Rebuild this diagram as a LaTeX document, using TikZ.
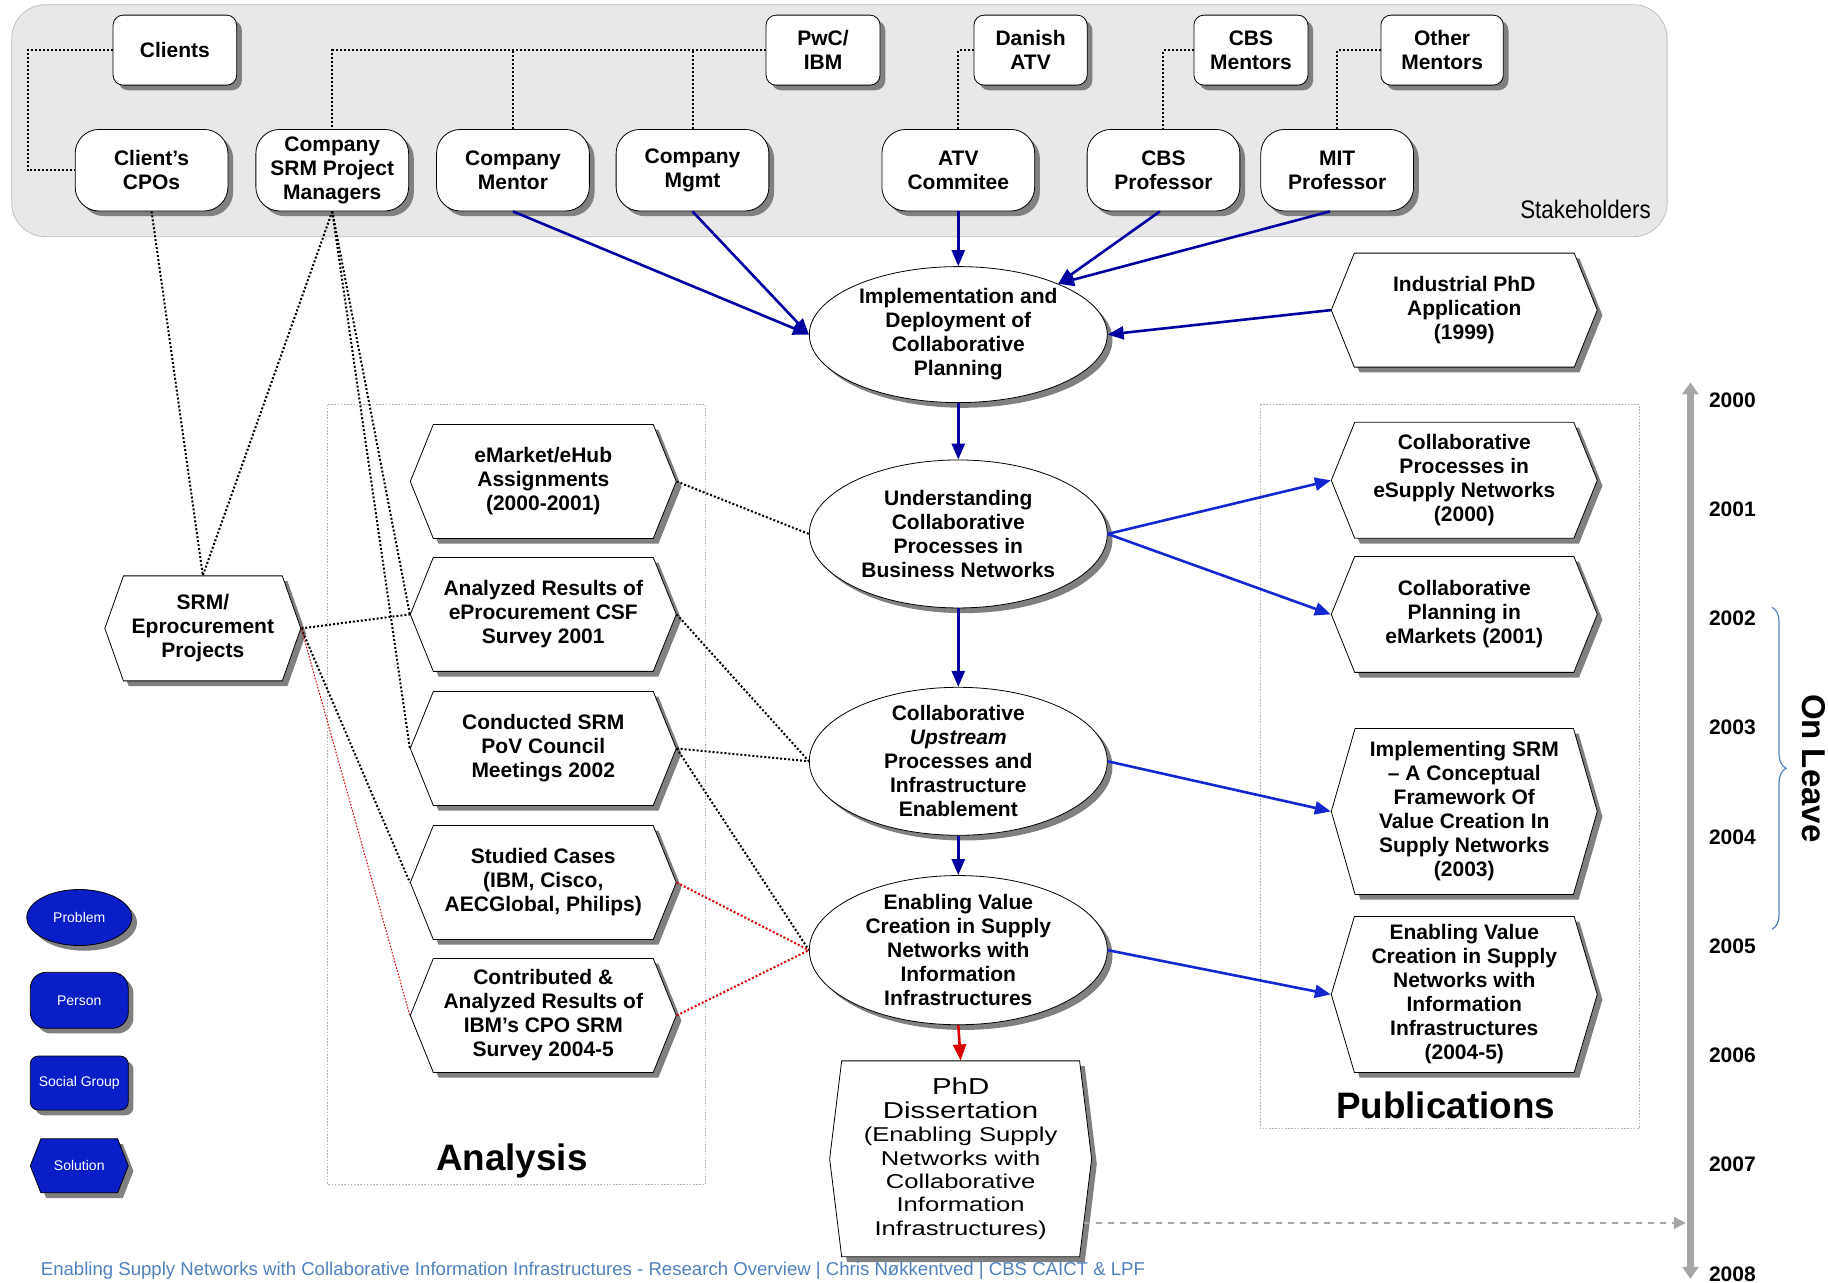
\documentclass[tikz,border=0pt]{standalone}
\usepackage{fontspec}
\setmainfont{Liberation Sans}
\newfontfamily\narrowfont[FakeStretch=0.88]{Liberation Sans}
\newfontfamily\widefont[FakeStretch=1.28]{Liberation Sans}
\usetikzlibrary{shapes.geometric,shapes.symbols,shadows,arrows.meta,decorations.pathreplacing}

\definecolor{navyarrow}{RGB}{0,0,160}
\definecolor{bluearrow}{RGB}{20,40,210}
\definecolor{legendblue}{RGB}{10,30,200}
\definecolor{footblue}{RGB}{79,129,189}
\definecolor{stakefill}{RGB}{232,232,232}
\definecolor{axisgray}{RGB}{166,166,166}

\tikzset{
  every node/.style={font=\bfseries\fontsize{10.5}{12}\selectfont, align=center},
  shad/.style={drop shadow={shadow xshift=2.6pt, shadow yshift=-2.6pt, fill=black!50, opacity=1}},
  group/.style={draw, fill=white, rounded corners=5pt, shad, minimum height=35pt, inner sep=1pt},
  person/.style={draw, fill=white, rounded corners=12pt, shad, minimum width=76.4pt, minimum height=40.8pt, inner sep=1pt},
  problem/.style={ellipse, draw, fill=white, shad, minimum width=149pt, inner sep=-8pt},
  solution/.style={signal, signal to=west and east, signal pointer angle=136, draw, fill=white, shad,
    minimum width=133pt, minimum height=57pt, inner sep=1pt},
  carrow/.style={navyarrow, line width=1.3pt, -{Triangle[length=8pt,width=6.5pt]}},
  parrow/.style={bluearrow, line width=1.3pt, -{Triangle[length=8pt,width=6.5pt]}},
  link/.style={line width=1pt, dash pattern=on 1pt off 1pt},
  redlink/.style={red!85!black, line width=1pt, dash pattern=on 1pt off 1pt},
  thinred/.style={red!85!black, line width=0.5pt, dash pattern=on 0.8pt off 0.8pt},
  area/.style={draw=black!30, line width=0.5pt, dash pattern=on 0.8pt off 0.8pt},
  legend/.style={draw, fill=legendblue, text=white, shad, font=\fontsize{7}{8}\selectfont,
    minimum width=49pt, minimum height=27pt, inner sep=1pt},
  year/.style={font=\bfseries\fontsize{10.5}{12}\selectfont}
}

\begin{document}
\begin{tikzpicture}[x=0.583pt, y=-0.583pt]
  \useasboundingbox (0,0) rectangle (1568,1100);

  % Stakeholder area
  \draw[fill=stakefill, draw=black!25, rounded corners=17pt] (10,4) rectangle (1430,203);
  \node[anchor=east, font=\narrowfont\fontsize{12.7}{14}\selectfont] (stake) at (1422,180) {Stakeholders};

  % Analysis and publication areas
  \draw[area] (281,347) rectangle (605,1016);
  \draw[area] (1081,347) rectangle (1406,968);
  \node[font=\bfseries\fontsize{18.4}{20}\selectfont] (analysis) at (439,996) {Analysis};
  \node[font=\bfseries\fontsize{18.4}{20}\selectfont] (publ) at (1240,948) {Publications};

  % Social groups
  \node[group, minimum width=61.8pt] (clients) at (150,43) {Clients};
  \node[group, minimum width=57pt] (pwc) at (706,43) {PwC/\\IBM};
  \node[group, minimum width=56.6pt] (danish) at (884,43) {Danish\\ATV};
  \node[group, minimum width=57pt] (cbsment) at (1073,43) {CBS\\Mentors};
  \node[group, minimum width=61.2pt] (othment) at (1237,43) {Other\\Mentors};

  % Persons
  \node[person] (cpos) at (130,146) {Client’s\\CPOs};
  \node[person] (srmpm) at (285,146) {Company\\SRM Project\\Managers};
  \node[person] (compment) at (440,146) {Company\\Mentor};
  \node[person] (compmgmt) at (594,146) {Company\\Mgmt};
  \node[person] (atvcom) at (822,146) {ATV\\Commitee};
  \node[person] (cbsprof) at (998,146) {CBS\\Professor};
  \node[person] (mitprof) at (1147,146) {MIT\\Professor};

  % Problems
  \node[problem, minimum height=68pt] (impl) at (822,287) {Implementation and\\Deployment of\\Collaborative\\Planning};
  \node[problem, minimum height=74pt] (underst) at (822,458) {Understanding\\Collaborative\\Processes in\\Business Networks};
  \node[problem, minimum height=74pt] (upstream) at (822,653) {Collaborative\\\textit{Upstream}\\Processes and\\Infrastructure\\Enablement};
  \node[problem, minimum height=74.6pt] (enabling) at (822,815) {Enabling Value\\Creation in Supply\\Networks with\\Information\\Infrastructures};

  % Solutions
  \node[solution] (indphd) at (1256,266) {Industrial PhD\\Application\\(1999)};
  \node[solution] (emarket) at (466,413) {eMarket/eHub\\Assignments\\(2000-2001)};
  \node[solution] (csf) at (466,527) {Analyzed Results of\\eProcurement CSF\\Survey 2001};
  \node[solution] (pov) at (466,642) {Conducted SRM\\PoV Council\\Meetings 2002};
  \node[solution] (cases) at (466,757) {Studied Cases\\(IBM, Cisco,\\AECGlobal, Philips)};
  \node[solution] (cposurvey) at (466,871) {Contributed \&\\Analyzed Results of\\IBM’s CPO SRM\\Survey 2004-5};
  \node[solution, minimum width=98pt, minimum height=52.5pt, signal pointer angle=141] (srmproj) at (174,539) {SRM/\\Eprocurement\\Projects};
  \node[solution, minimum height=58pt] (pubproc) at (1256,412) {Collaborative\\Processes in\\eSupply Networks\\(2000)};
  \node[solution, minimum height=58pt] (pubplan) at (1256,527) {Collaborative\\Planning in\\eMarkets (2001)};
  \node[solution, minimum height=83pt, signal pointer angle=148] (pubsrm) at (1256,696) {Implementing SRM\\– A Conceptual\\Framework Of\\Value Creation In\\Supply Networks\\(2003)};
  \node[solution, minimum height=78pt, signal pointer angle=147] (pubvalue) at (1256,853) {Enabling Value\\Creation in Supply\\Networks with\\Information\\Infrastructures\\(2004-5)};
  \node[solution, minimum width=131pt, minimum height=98pt, signal pointer angle=166,
    font=\widefont\fontsize{10}{11.7}\selectfont] (phd) at (824,994)
    {{\fontsize{11.5}{13.4}\selectfont PhD}\\{\fontsize{11.5}{13.4}\selectfont Dissertation}\\(Enabling Supply\\Networks with\\Collaborative\\Information\\Infrastructures)};

  % Legend
  \node[legend, ellipse, minimum width=52.5pt, minimum height=28pt, inner sep=0pt] (lgprob) at (68,787) {Problem};
  \node[legend, rounded corners=8pt, minimum height=28pt] (lgperson) at (68,858) {Person};
  \node[legend, rounded corners=4pt] (lggroup) at (68,929) {Social Group};
  \node[legend, signal, signal to=west and east, signal pointer angle=137] (lgsol) at (68,1000) {Solution};

  % Time line
  \coordinate (tltop) at (1450,328);
  \coordinate (tlbot) at (1450,1097);
  \coordinate (tlhit) at (1446,1049);
  \node[year] (y2000) at (1486,343) {2000};
  \node[year] (y2001) at (1486,437) {2001};
  \node[year] (y2002) at (1486,530) {2002};
  \node[year] (y2003) at (1486,624) {2003};
  \node[year] (y2004) at (1486,718) {2004};
  \node[year] (y2005) at (1486,812) {2005};
  \node[year] (y2006) at (1486,905) {2006};
  \node[year] (y2007) at (1486,999) {2007};
  \node[year] (y2008) at (1486,1093) {2008};
  \coordinate (leavetop) at (1520,521);
  \coordinate (leavebot) at (1520,797);
  \node[rotate=-90, font=\bfseries\fontsize{16.5}{18}\selectfont] (onleave) at (1556,659) {On Leave};

  % Footer
  \node[anchor=west, text=footblue, font=\fontsize{9.3}{11}\selectfont] (footer) at (29,1090)
    {Enabling Supply Networks with Collaborative Information Infrastructures - Research Overview | Chris Nøkkentved | CBS CAICT \& LPF};

  % Stakeholder links
  \draw[link] (clients.west) -- ++(-73,0) |- (cpos.west);
  \draw[link] (pwc.west) -| (srmpm.north);
  \draw[link] (compment.north) -- (compment.north |- pwc.west);
  \draw[link] (compmgmt.north) -- (compmgmt.north |- pwc.west);
  \draw[link] (danish.west) -| (atvcom.north);
  \draw[link] (cbsment.west) -| (cbsprof.north);
  \draw[link] (othment.west) -| (mitprof.north);

  % Arrows into the problems
  \draw[carrow] (compment.south) -- (impl.west);
  \draw[carrow] (compmgmt.south) -- (impl.west);
  \draw[carrow] (atvcom.south) -- (impl.north);
  \draw[carrow] (cbsprof.-95) -- (impl.27);
  \draw[carrow] (mitprof.-100) -- (impl.27);
  \draw[carrow] (indphd.west) -- (impl.east);
  \draw[carrow] (impl.south) -- (underst.north);
  \draw[carrow] (underst.south) -- (upstream.north);
  \draw[carrow] (upstream.south) -- (enabling.north);
  \draw[red!85!black, line width=1.3pt, -{Triangle[length=8pt,width=6.5pt]}] (enabling.south) -- (phd.north);

  % Arrows to the publications
  \draw[parrow] (underst.east) -- (pubproc.west);
  \draw[parrow] (underst.east) -- (pubplan.west);
  \draw[parrow] (upstream.east) -- (pubsrm.west);
  \draw[parrow] (enabling.east) -- (pubvalue.west);

  % Analysis links
  \draw[link] (cpos.south) -- (srmproj.north);
  \draw[link] (srmpm.south) -- (srmproj.north);
  \draw[link] (srmpm.south) -- (csf.west);
  \draw[link] (srmpm.south) -- (pov.west);
  \draw[link] (srmproj.east) -- (csf.west);
  \draw[link] (srmproj.east) -- (cases.west);
  \draw[thinred] (srmproj.east) -- (cposurvey.west);
  \draw[link] (emarket.east) -- (underst.west);
  \draw[link] (csf.east) -- (upstream.west);
  \draw[link] (pov.east) -- (upstream.west);
  \draw[link] (pov.east) -- (enabling.west);
  \draw[redlink] (cases.east) -- (enabling.west);
  \draw[redlink] (cposurvey.east) -- (enabling.west);

  % Time line
  \draw[axisgray, line width=3.2pt, {Triangle[length=6pt,width=8pt]}-{Triangle[length=6pt,width=8pt]}] (tltop) -- (tlbot);
  \draw[axisgray, line width=1pt, dashed, -{Triangle[length=6pt,width=6pt]}] ([xshift=-4pt]phd.east |- tlhit) -- (tlhit);
  \draw[footblue, line width=0.6pt, decorate, decoration={brace, amplitude=7pt}] (leavetop) -- (leavebot);
\end{tikzpicture}
\end{document}
